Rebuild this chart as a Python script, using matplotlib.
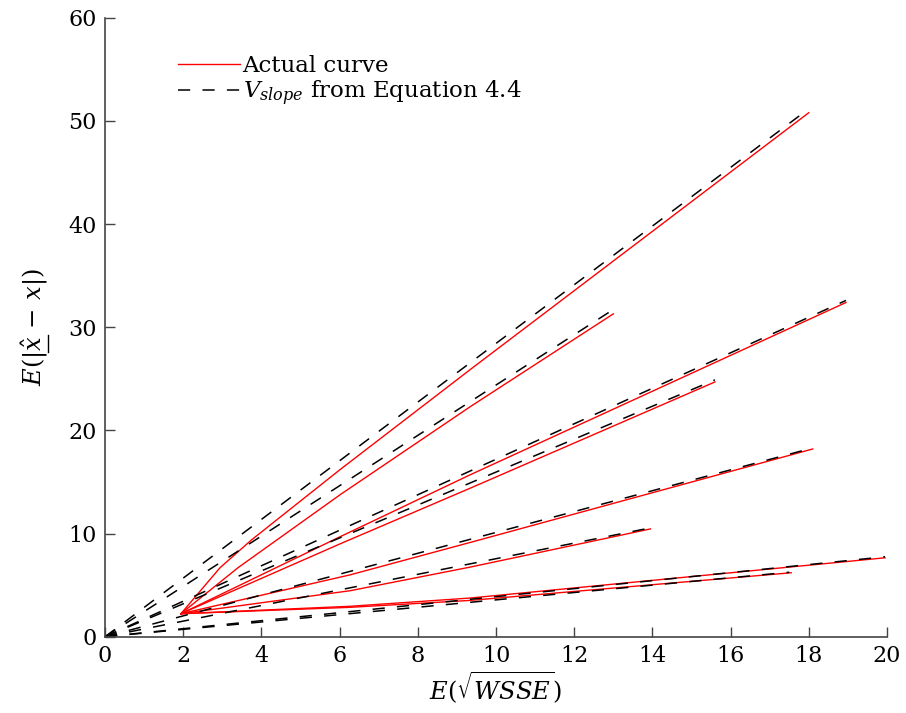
import matplotlib

matplotlib.use('Agg')

import matplotlib.pyplot as plt
from matplotlib.lines import Line2D

plt.rcParams['font.family'] = 'DejaVu Serif'
plt.rcParams['mathtext.fontset'] = 'dejavuserif'

# start point shared by every measured curve
x_start = 1.94
y_start = 2.23

# measured curves (x, y points after the common start)
actual_x = [
    [2.94, 3.75, 6.01, 9.34, 18.0],
    [3.4, 6.01, 9.34, 13.0],
    [6.01, 9.34, 18.95],
    [6.01, 9.34, 15.6],
    [6.27, 9.34, 18.1],
    [6.27, 9.34, 13.95],
    [6.27, 9.34, 19.95],
    [6.27, 9.34, 17.55],
]
actual_y = [
    [6.69, 9.4, 16.2, 25.9, 50.8],
    [6.69, 13.76, 22.3, 31.3],
    [9.69, 15.7, 32.4],
    [9.0, 14.4, 24.7],
    [6.0, 9.14, 18.2],
    [4.46, 6.75, 10.45],
    [2.95, 3.75, 7.65],
    [2.85, 3.52, 6.2],
]

# V_slope lines run from the origin to these end points
slope_end_x = [17.9, 12.95, 18.95, 15.6, 18.1, 13.95, 19.95, 17.5]
slope_end_y = [50.9, 31.6, 32.6, 24.9, 18.3, 10.55, 7.75, 6.25]

fig = plt.figure(figsize=(9.06, 7.13), dpi=100)
ax = fig.add_axes([0.116, 0.107, 0.863, 0.868])

for i in range(len(actual_x)):
    xs = [x_start] + actual_x[i]
    ys = [y_start] + actual_y[i]
    ax.plot(xs, ys, color='red', lw=1.0,
            label='Actual curve' if i == 0 else None)

for i in range(len(slope_end_x)):
    ax.plot([0, slope_end_x[i]], [0, slope_end_y[i]], color='black',
            lw=1.1, linestyle=(0, (8, 8)),
            label=r'$V_{slope}$ from Equation 4.4' if i == 0 else None)

ax.set_xlim(0, 20)
ax.set_ylim(0, 60)
ax.set_xticks(range(0, 21, 2))
ax.set_yticks(range(0, 61, 10))
ax.tick_params(direction='in', length=7, width=1, labelsize=16,
               color='#444444', pad=6)
for side in ['top', 'right']:
    ax.spines[side].set_visible(False)
for side in ['left', 'bottom']:
    ax.spines[side].set_color('#444444')
    ax.spines[side].set_linewidth(1.2)

lab_size = 17.5
ax.set_xlabel(r'$E(\sqrt{WSSE})$', fontsize=lab_size, labelpad=2)
ylab = ax.set_ylabel(r'$E(|\hat{x}\,-\,x|)$', fontsize=lab_size, labelpad=13)

ax.legend(loc='upper left', bbox_to_anchor=(0.082, 0.954), frameon=False,
          fontsize=16.5, handlelength=2.7, handletextpad=0.1,
          labelspacing=0.05, borderaxespad=0)

# mathtext has no \underline, so underline the x-hat by hand:
# measure where x-hat sits along the rotated label
fig.canvas.draw()
r = fig.canvas.get_renderer()
bb = ylab.get_window_extent(r)
t1 = fig.text(0, 0, r'$E(|$', fontsize=lab_size)
t2 = fig.text(0, 0, r'$E(|\hat{x}$', fontsize=lab_size)
w1 = t1.get_window_extent(r).width
w2 = t2.get_window_extent(r).width
t1.remove()
t2.remove()
W, H = fig.bbox.width, fig.bbox.height
ux = (bb.x1 - 2) / W
fig.add_artist(Line2D([ux, ux], [(bb.y0 + w1) / H, (bb.y0 + w2) / H],
                      transform=fig.transFigure, color='black', lw=1.0))

fig.savefig('out.png', dpi=100)
